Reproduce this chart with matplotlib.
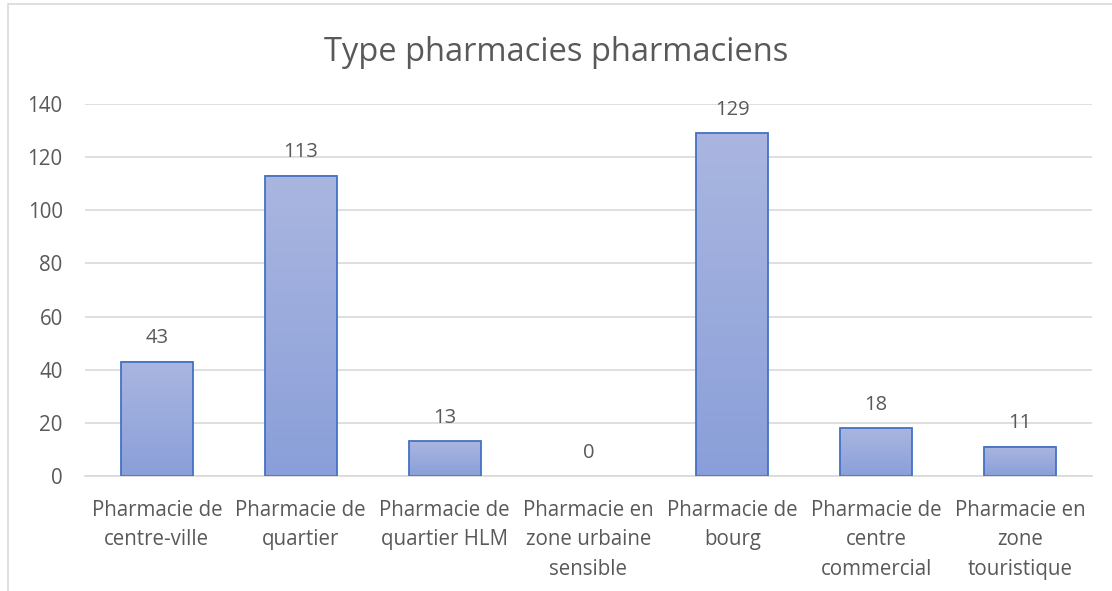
import numpy as np
import matplotlib
matplotlib.use("Agg")
import matplotlib.pyplot as plt
from matplotlib.colors import LinearSegmentedColormap
from matplotlib.patches import Rectangle

categories = [
    "Pharmacie de\ncentre-ville",
    "Pharmacie de\nquartier",
    "Pharmacie de\nquartier HLM",
    "Pharmacie en\nzone urbaine\nsensible",
    "Pharmacie de\nbourg",
    "Pharmacie de\ncentre\ncommercial",
    "Pharmacie en\nzone\ntouristique",
]
counts = [43, 113, 13, 0, 129, 18, 11]
yticks = [0, 20, 40, 60, 80, 100, 120, 140]

plt.rcParams["font.family"] = ["Open Sans", "DejaVu Sans"]
text_color = "#595959"
grid_color = "#d9d9d9"

fig = plt.figure(figsize=(11.12, 5.91), dpi=100)
fig.patches.append(Rectangle((0.007, -0.1), 1.1, 1.093, transform=fig.transFigure,
                             fill=False, edgecolor="#d9d9d9", linewidth=1.2))
ax = fig.add_axes([0.0764, 0.1946, 0.9056, 0.6294])

x = np.arange(len(categories))
edges = ["#4472c4" if v > 0 else "none" for v in counts]
bars = ax.bar(x, counts, width=0.5, color="none", edgecolor=edges, linewidth=1.3, zorder=3)

grad = LinearSegmentedColormap.from_list("g", ["#8a9fd9", "#aab6e0"])
for b in bars:
    h = b.get_height()
    if h <= 0:
        continue
    x0 = b.get_x()
    ax.imshow(np.linspace(0, 1, 100).reshape(-1, 1), cmap=grad, origin="lower",
              extent=[x0, x0 + b.get_width(), 0, h], aspect="auto", zorder=2)

for xi, v in zip(x, counts):
    ax.text(xi, v + 5, str(v), ha="center", va="bottom", fontsize=14.5, color=text_color)

ax.set_xlim(-0.5, len(categories) - 0.5)
ax.set_ylim(0, 140)
ax.set_yticks(yticks)
ax.set_xticks(x)
ax.set_xticklabels(categories, fontsize=14.8, color=text_color, linespacing=1.55)
ax.tick_params(axis="y", labelsize=14.8, labelcolor=text_color, length=0, pad=16)
ax.tick_params(axis="x", length=0, pad=17)
ax.grid(axis="y", color=grid_color, linewidth=1.2, zorder=0)
ax.set_axisbelow(True)
for s in ["top", "right", "left"]:
    ax.spines[s].set_visible(False)
ax.spines["bottom"].set_color(grid_color)
ax.spines["bottom"].set_linewidth(1.2)

fig.text(0.5, 0.912, "Type pharmacies pharmaciens", ha="center", va="center",
         fontsize=23.5, color=text_color)

fig.savefig("out.png", dpi=100)
